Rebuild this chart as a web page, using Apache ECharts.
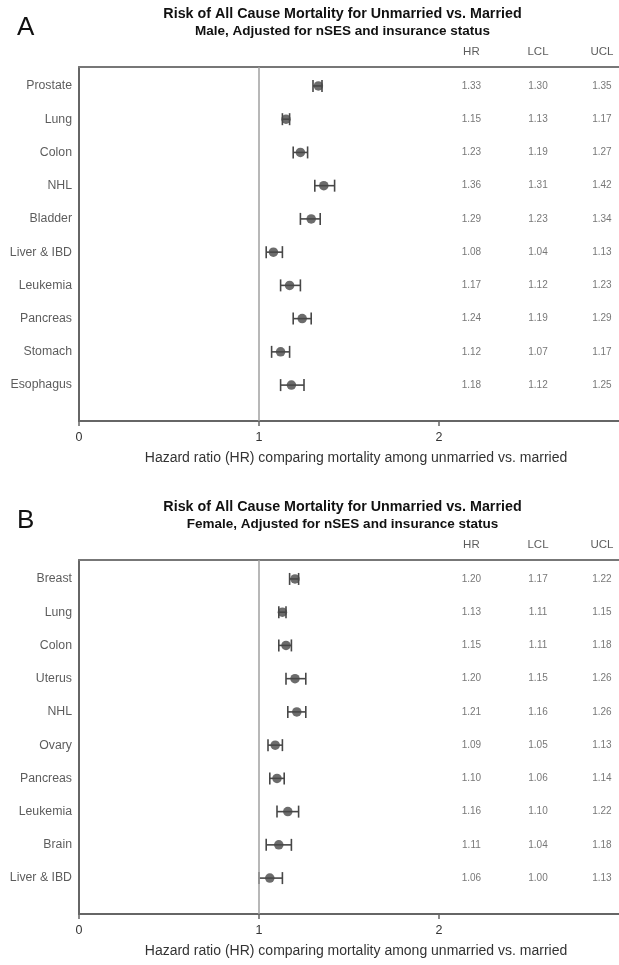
<!DOCTYPE html>
<html>
<head>
<meta charset="utf-8">
<script src="https://cdn.jsdelivr.net/npm/echarts@6/dist/echarts.min.js"></script>
<style>
html,body{margin:0;padding:0;background:#fff;}
#chart{width:619px;height:965px;}
</style>
</head>
<body>
<div id="chart"></div>
<script>
// ---- Data ----
const catsA = ['Prostate','Lung','Colon','NHL','Bladder','Liver & IBD','Leukemia','Pancreas','Stomach','Esophagus'];
const hrA  = [1.33,1.15,1.23,1.36,1.29,1.08,1.17,1.24,1.12,1.18];
const lclA = [1.30,1.13,1.19,1.31,1.23,1.04,1.12,1.19,1.07,1.12];
const uclA = [1.35,1.17,1.27,1.42,1.34,1.13,1.23,1.29,1.17,1.25];

const catsB = ['Breast','Lung','Colon','Uterus','NHL','Ovary','Pancreas','Leukemia','Brain','Liver & IBD'];
const hrB  = [1.20,1.13,1.15,1.20,1.21,1.09,1.10,1.16,1.11,1.06];
const lclB = [1.17,1.11,1.11,1.15,1.16,1.05,1.06,1.10,1.04,1.00];
const uclB = [1.22,1.15,1.18,1.26,1.26,1.13,1.14,1.22,1.18,1.13];

const tableHeaders = ['HR','LCL','UCL'];
const xTicks = [0, 1, 2];
const titleMain = 'Risk of All Cause Mortality for Unmarried vs. Married';
const subA = 'Male, Adjusted for nSES and insurance status';
const subB = 'Female, Adjusted for nSES and insurance status';
const xName = 'Hazard ratio (HR) comparing mortality among unmarried vs. married';

// ---- Layout constants ----
const FONT = '"Liberation Sans", Arial, Helvetica, sans-serif';
const colX = [2.18, 2.55, 2.905];   // table column positions in axis units
const headerY = -1.03;
const gridTops = [67, 560];
const gridH = 354;

const chart = echarts.init(document.getElementById('chart'), null, {renderer:'canvas'});

function panel(idx, cats, hr, lcl, ucl) {
  const series = [];
  series.push({
    type: 'custom',
    xAxisIndex: idx*2, yAxisIndex: idx,
    clip: false,
    data: cats.map((c,i)=>[lcl[i], ucl[i], i]),
    renderItem: function(params, api){
      const p1 = api.coord([api.value(0), api.value(2)]);
      const p2 = api.coord([api.value(1), api.value(2)]);
      const h = 6;
      const st = {stroke:'#474747', lineWidth:1.6};
      return {type:'group', children:[
        {type:'line', shape:{x1:p1[0],y1:p1[1],x2:p2[0],y2:p2[1]}, style:st},
        {type:'line', shape:{x1:p1[0],y1:p1[1]-h,x2:p1[0],y2:p1[1]+h}, style:st},
        {type:'line', shape:{x1:p2[0],y1:p2[1]-h,x2:p2[0],y2:p2[1]+h}, style:st}
      ]};
    },
    markLine: {
      silent: true, symbol: 'none', label:{show:false},
      lineStyle:{color:'#a0a0a0', width:1.5, type:'solid'},
      data: [{xAxis: 1}]
    },
    z: 3
  });
  series.push({
    type: 'scatter',
    xAxisIndex: idx*2, yAxisIndex: idx,
    data: hr.map((v,i)=>[v,i]),
    symbol: 'circle', symbolSize: 9.5,
    itemStyle: {color:'#474747'},
    z: 4
  });
  series.push({
    type: 'scatter',
    xAxisIndex: idx*2, yAxisIndex: idx,
    clip: false,
    data: cats.map((c,i)=>[0,i,c]),
    symbolSize: 0,
    label: {show:true, position:'left', distance:7,
      formatter: p=>p.data[2], fontFamily: FONT, fontSize: 12.3, color:'#333'}
  });
  [hr, lcl, ucl].forEach((arr, k)=>{
    series.push({
      type: 'scatter',
      xAxisIndex: idx*2, yAxisIndex: idx,
      clip: false,
      data: arr.map((v,i)=>[colX[k], i, v.toFixed(2)]),
      symbolSize: 0,
      label: {show:true, position:'inside',
        formatter: p=>p.data[2], fontFamily: FONT, fontSize: 10, color:'#555'}
    });
  });
  series.push({
    type: 'scatter',
    xAxisIndex: idx*2, yAxisIndex: idx,
    clip: false,
    data: tableHeaders.map((h,k)=>[colX[k], headerY, h]),
    symbolSize: 0,
    label: {show:true, position:'inside',
      formatter: p=>p.data[2], fontFamily: FONT, fontSize: 11.5, color:'#333'}
  });
  return series;
}

const grids = gridTops.map(t=>({left:79, right:0, top:t, height:gridH}));

const xAxes = [];
const yAxes = [];
[0,1].forEach(i=>{
  xAxes.push({
    gridIndex: i, type:'value', min: 0, max: 3, interval: 1,
    position: 'bottom',
    axisLine: {show:true, onZero:false, lineStyle:{color:'#666', width:2}},
    axisTick: {show:true, length:5, lineStyle:{color:'#666', width:1.5}},
    axisLabel: {show:true, margin:10, fontFamily:FONT, fontSize:12.5, color:'#333',
      showMaxLabel:false,
      formatter: v => xTicks.indexOf(v) >= 0 ? String(v) : ''},
    splitLine: {show:false},
    name: xName, nameLocation:'middle', nameGap: 30,
    nameTextStyle: {fontFamily:FONT, fontSize:14, color:'#333', padding:[0,0,0,14]}
  });
  xAxes.push({
    gridIndex: i, type:'value', min: 0, max: 3, position:'top',
    axisLine: {show:true, onZero:false, lineStyle:{color:'#777', width:2}},
    axisTick: {show:false}, axisLabel:{show:false}, splitLine:{show:false}
  });
  yAxes.push({
    gridIndex: i, type:'value', inverse:true, min:-0.57, max:10.08,
    axisLine: {show:true, onZero:false, lineStyle:{color:'#666', width:2}},
    axisTick: {show:false}, axisLabel:{show:false}, splitLine:{show:false}
  });
});

function txt(x, y, text, size, weight, align) {
  return {type:'text', x:x, y:y, silent:true,
    style:{text:text, fontFamily:FONT, fontSize:size, fontWeight:weight||'normal',
      fill:'#111', align: align||'center', verticalAlign:'middle',
      textAlign: align||'center', textVerticalAlign:'middle'}};
}
const off = gridTops[1]-gridTops[0];
const graphics = [
  txt(17, 27.5, 'A', 26, 'normal', 'left'),
  txt(342.5, 14, titleMain, 14.3, 'bold'),
  txt(342.5, 31, subA, 13.5, 'bold'),
  txt(17, 27.5+off, 'B', 26, 'normal', 'left'),
  txt(342.5, 14+off, titleMain, 14.3, 'bold'),
  txt(342.5, 31+off, subB, 13.5, 'bold')
];

chart.setOption({
  animation: false,
  backgroundColor: '#fff',
  grid: grids,
  xAxis: xAxes,
  yAxis: yAxes,
  graphic: graphics,
  series: panel(0, catsA, hrA, lclA, uclA).concat(panel(1, catsB, hrB, lclB, uclB))
});
</script>
</body>
</html>
